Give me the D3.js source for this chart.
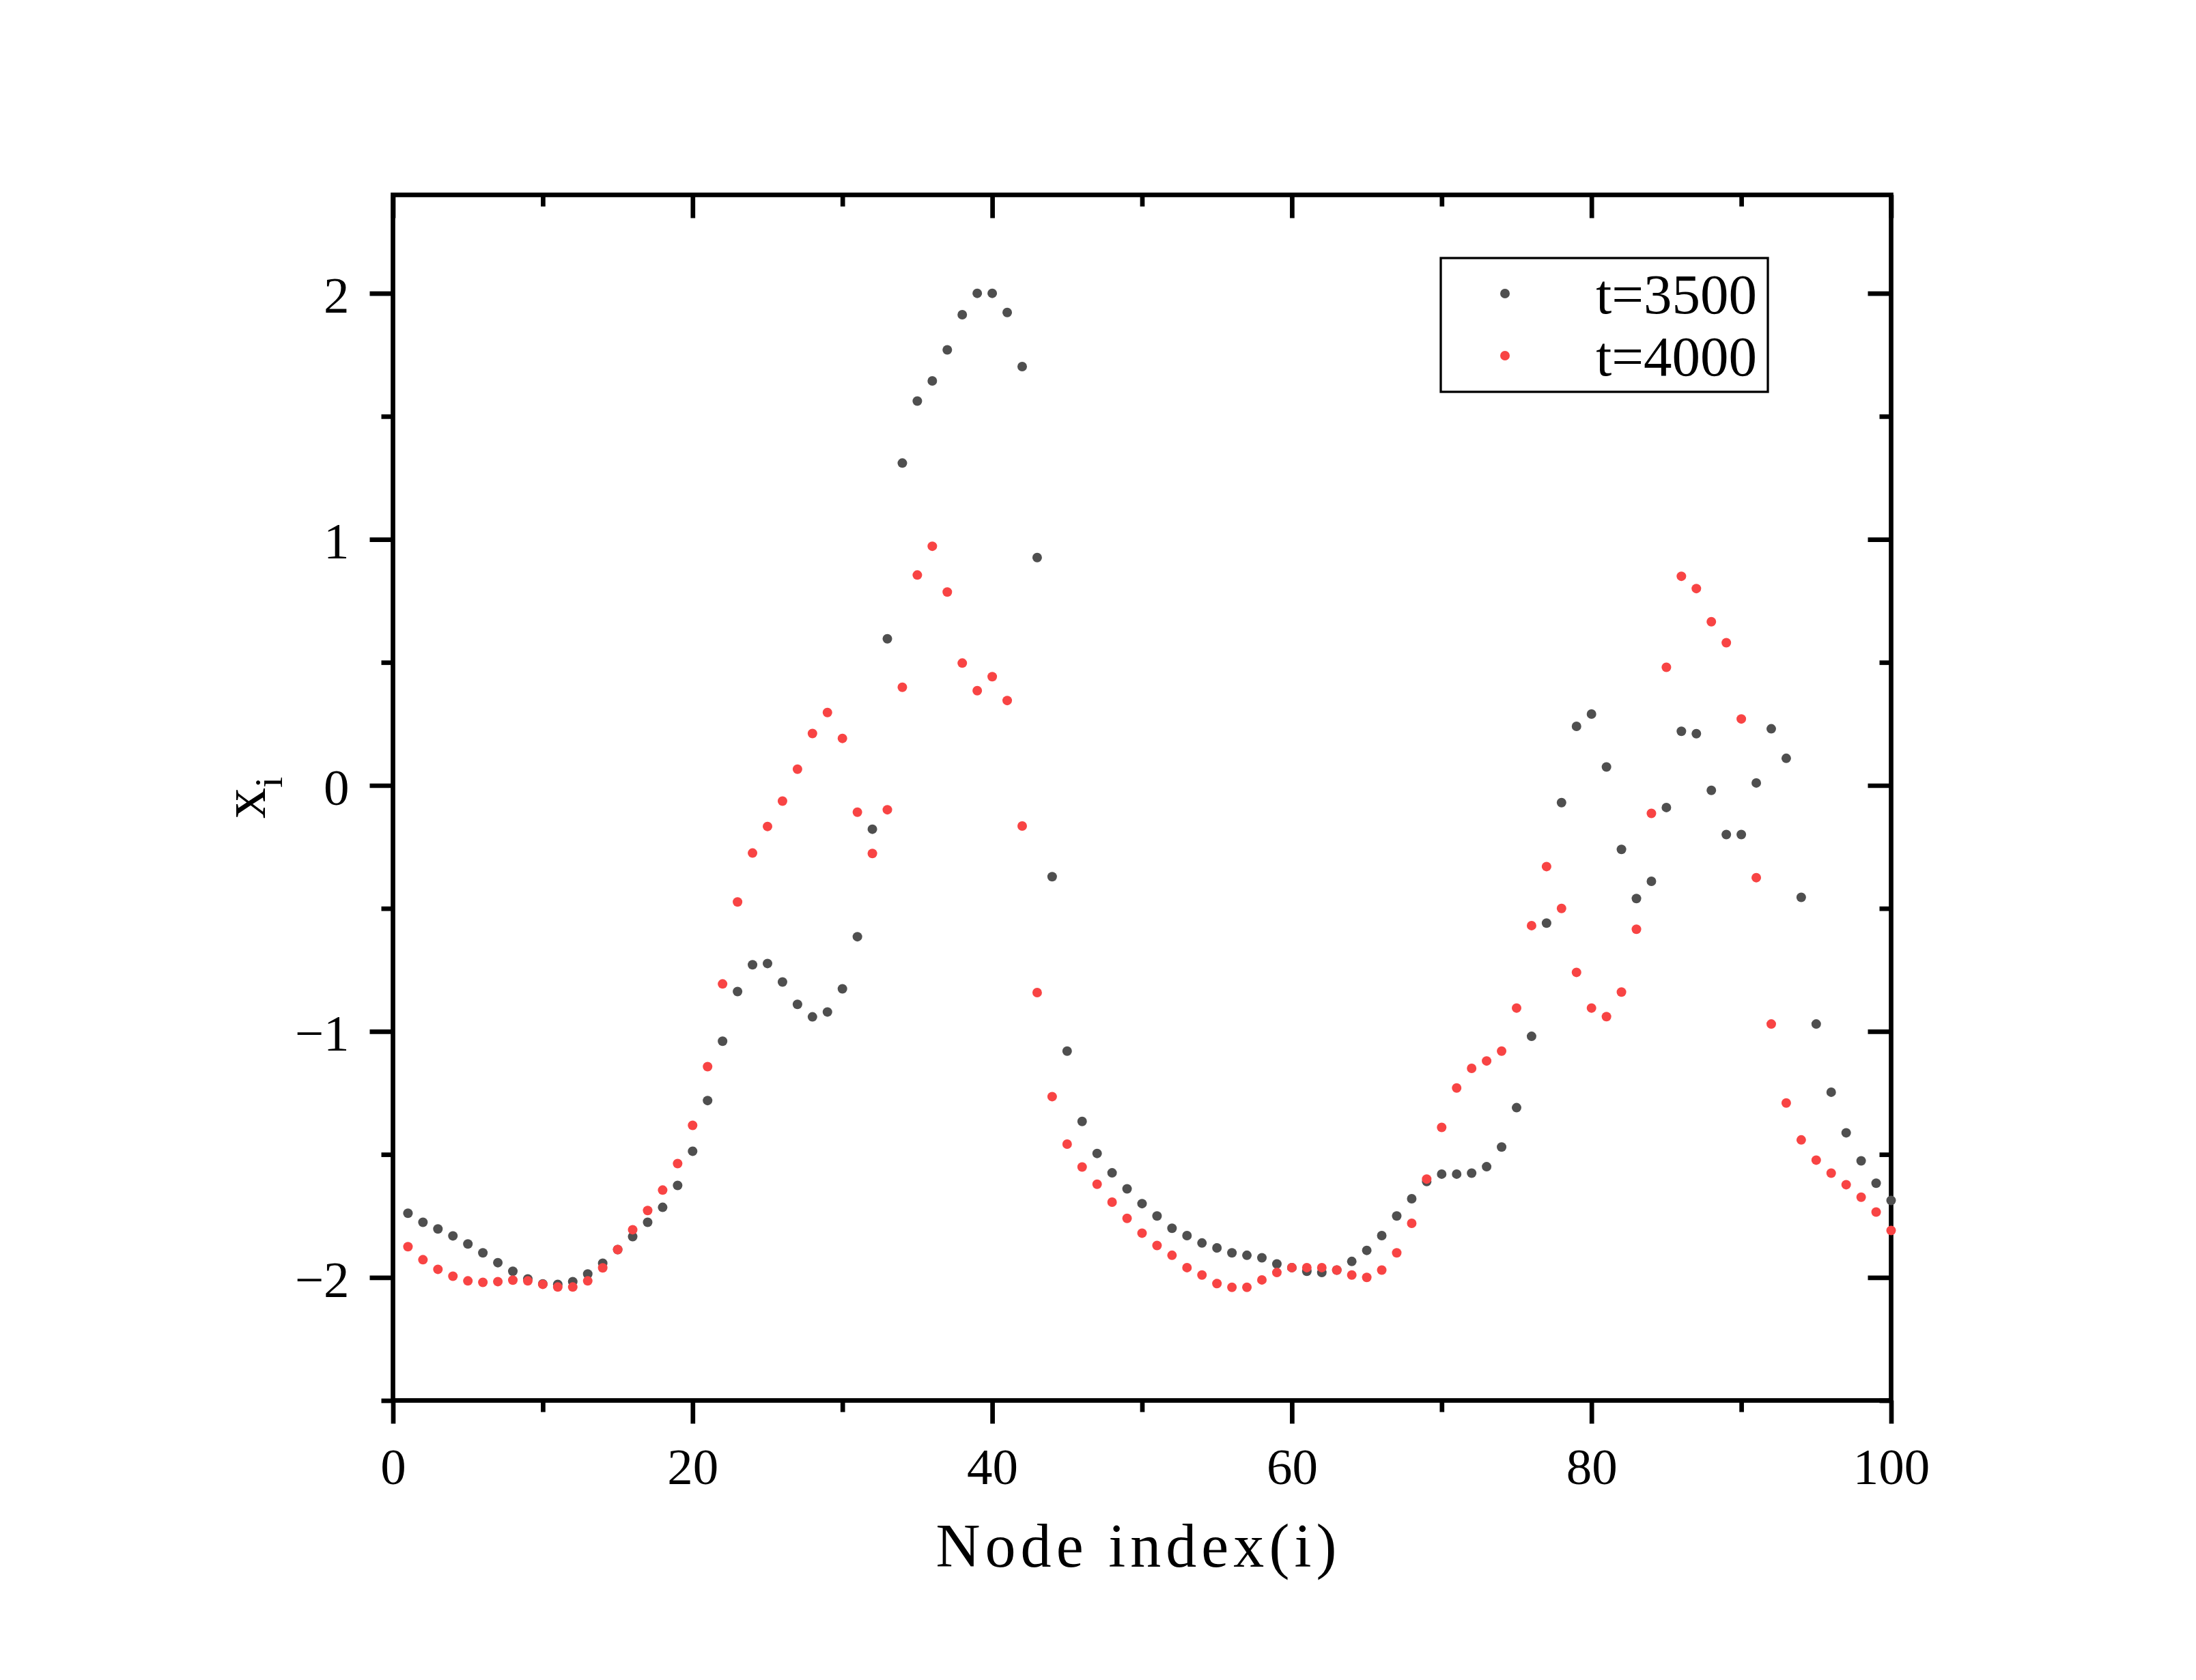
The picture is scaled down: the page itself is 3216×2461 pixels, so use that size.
<!DOCTYPE html>
<html><head><meta charset="utf-8">
<script src="https://cdn.jsdelivr.net/npm/d3@7/dist/d3.min.js"></script>
<style>body{margin:0;background:#fff}</style>
</head><body>
<svg id="c" width="3216" height="2461"></svg>
<script>
const nodeIndex = [1,2,3,4,5,6,7,8,9,10,11,12,13,14,15,16,17,18,19,20,21,22,23,24,25,26,27,28,29,30,31,32,33,34,35,36,37,38,39,40,41,42,43,44,45,46,47,48,49,50,51,52,53,54,55,56,57,58,59,60,61,62,63,64,65,66,67,68,69,70,71,72,73,74,75,76,77,78,79,80,81,82,83,84,85,86,87,88,89,90,91,92,93,94,95,96,97,98,99,100];
const seriesNames = ["t=3500", "t=4000"];
const t3500 = [-1.739,-1.776,-1.803,-1.831,-1.864,-1.900,-1.940,-1.975,-2.006,-2.026,
 -2.028,-2.017,-1.986,-1.942,-1.887,-1.834,-1.776,-1.715,-1.626,-1.487,
 -1.281,-1.040,-0.838,-0.729,-0.724,-0.799,-0.890,-0.941,-0.921,-0.827,
 -0.615,-0.178,0.596,1.310,1.562,1.644,1.770,1.913,2.000,2.000,
 1.922,1.702,0.926,-0.371,-1.080,-1.366,-1.496,-1.575,-1.640,-1.700,
 -1.750,-1.800,-1.830,-1.860,-1.880,-1.900,-1.910,-1.920,-1.945,-1.960,
 -1.975,-1.980,-1.970,-1.935,-1.890,-1.830,-1.750,-1.680,-1.610,-1.580,
 -1.580,-1.576,-1.550,-1.470,-1.310,-1.020,-0.560,-0.070,0.240,0.290,
 0.075,-0.260,-0.460,-0.390,-0.090,0.220,0.210,-0.020,-0.200,-0.200,
 0.010,0.230,0.110,-0.455,-0.970,-1.247,-1.412,-1.526,-1.617,-1.687];
const t4000 = [-1.875,-1.928,-1.967,-1.995,-2.014,-2.020,-2.017,-2.011,-2.014,-2.028,
 -2.039,-2.039,-2.014,-1.961,-1.887,-1.806,-1.728,-1.645,-1.537,-1.382,
 -1.143,-0.807,-0.474,-0.275,-0.167,-0.064,0.066,0.211,0.296,0.191,
 -0.109,-0.277,-0.099,0.399,0.855,0.972,0.786,0.497,0.385,0.442,
 0.345,-0.165,-0.842,-1.265,-1.458,-1.551,-1.621,-1.694,-1.760,-1.820,
 -1.870,-1.910,-1.960,-1.990,-2.025,-2.040,-2.040,-2.010,-1.980,-1.960,
 -1.960,-1.960,-1.970,-1.990,-2.000,-1.970,-1.900,-1.780,-1.600,-1.390,
 -1.230,-1.150,-1.120,-1.080,-0.905,-0.570,-0.330,-0.500,-0.760,-0.905,
 -0.940,-0.840,-0.585,-0.114,0.480,0.850,0.800,0.665,0.580,0.270,
 -0.375,-0.970,-1.291,-1.441,-1.523,-1.576,-1.623,-1.674,-1.734,-1.809];
const xTickValues = [0, 20, 40, 60, 80, 100];
const xMinorValues = [10, 30, 50, 70, 90];
const yTickValues = [-2, -1, 0, 1, 2];
const yMinorValues = [-2.5, -1.5, -0.5, 0.5, 1.5];
const xTitle = "Node index(i)";

const L = 575.5, R = 2769.5, T = 285.5, B = 2051.5;
const TW = 6.7, MAJ = 34, MIN = 17;
const FONT = "'Liberation Serif','Times New Roman',serif";
const colors = ["#4f4f4f", "#f84444"];

const svg = d3.select("#c");
const x = d3.scaleLinear().domain([0, 100]).range([L, R]);
const y = d3.scaleLinear().domain([-2.5, 2.4]).range([B, T]);

function styleAxis(g, fs) {
  g.select(".domain").remove();
  g.selectAll(".tick line").attr("stroke", "#000").attr("stroke-width", TW);
  g.selectAll(".tick text").attr("fill", "#000").style("font-family", FONT).style("font-size", fs + "px");
}
const fmt = d3.format("d");
// bottom
svg.append("g").attr("transform", `translate(0,${B})`)
  .call(d3.axisBottom(x).tickValues(xTickValues).tickFormat(fmt).tickSize(MAJ).tickPadding(35))
  .call(g => styleAxis(g, 75));
svg.append("g").attr("transform", `translate(0,${B})`)
  .call(d3.axisBottom(x).tickValues(xMinorValues).tickFormat("").tickSize(MIN))
  .call(g => styleAxis(g, 75));
// top (inward)
svg.append("g").attr("transform", `translate(0,${T})`)
  .call(d3.axisTop(x).tickValues(xTickValues).tickFormat("").tickSize(-MAJ))
  .call(g => styleAxis(g, 75));
svg.append("g").attr("transform", `translate(0,${T})`)
  .call(d3.axisTop(x).tickValues(xMinorValues).tickFormat("").tickSize(-MIN))
  .call(g => styleAxis(g, 75));
// left
svg.append("g").attr("transform", `translate(${L},0)`)
  .call(d3.axisLeft(y).tickValues(yTickValues).tickFormat(fmt).tickSize(MAJ).tickPadding(30))
  .call(g => { styleAxis(g, 75); g.selectAll(".tick text").attr("dy", "0.37em"); });
svg.append("g").attr("transform", `translate(${L},0)`)
  .call(d3.axisLeft(y).tickValues(yMinorValues).tickFormat("").tickSize(MIN))
  .call(g => styleAxis(g, 75));
// right (inward)
svg.append("g").attr("transform", `translate(${R},0)`)
  .call(d3.axisRight(y).tickValues(yTickValues).tickFormat("").tickSize(-MAJ))
  .call(g => styleAxis(g, 75));
svg.append("g").attr("transform", `translate(${R},0)`)
  .call(d3.axisRight(y).tickValues(yMinorValues).tickFormat("").tickSize(-MIN))
  .call(g => styleAxis(g, 75));

// frame
svg.append("rect").attr("x", L).attr("y", T).attr("width", R - L).attr("height", B - T)
  .attr("fill", "none").attr("stroke", "#000").attr("stroke-width", TW);

// points
const series = [t3500, t4000];
series.forEach((vals, si) => {
  svg.append("g").selectAll("circle").data(vals).join("circle")
    .attr("cx", (d, i) => x(nodeIndex[i]))
    .attr("cy", d => y(d))
    .attr("r", 7)
    .attr("fill", colors[si]);
});

// axis titles
svg.append("text").attr("x", 1664).attr("y", 2295).attr("text-anchor", "middle")
  .attr("textLength", 587).attr("lengthAdjust", "spacing")
  .style("font-family", FONT).style("font-size", "90px").text(xTitle);

const yt = svg.append("text").attr("transform", `translate(388,${(T + B) / 2}) rotate(-90)`)
  .attr("text-anchor", "middle").style("font-family", FONT).style("font-size", "90px");
yt.append("tspan").text("x");
yt.append("tspan").attr("dy", 25).style("font-size", "58px").text("i");

// legend
const lg = svg.append("g");
lg.append("rect").attr("x", 2110).attr("y", 378).attr("width", 479).attr("height", 196)
  .attr("fill", "#fff").attr("stroke", "#000").attr("stroke-width", 3.3);
const legY = [430, 521];
seriesNames.forEach((name, i) => {
  lg.append("circle").attr("cx", 2204).attr("cy", legY[i]).attr("r", 7).attr("fill", colors[i]);
  lg.append("text").attr("x", 2573).attr("y", legY[i] + 29).attr("text-anchor", "end")
    .style("font-family", FONT).style("font-size", "83px").text(name);
});
</script>
</body></html>
